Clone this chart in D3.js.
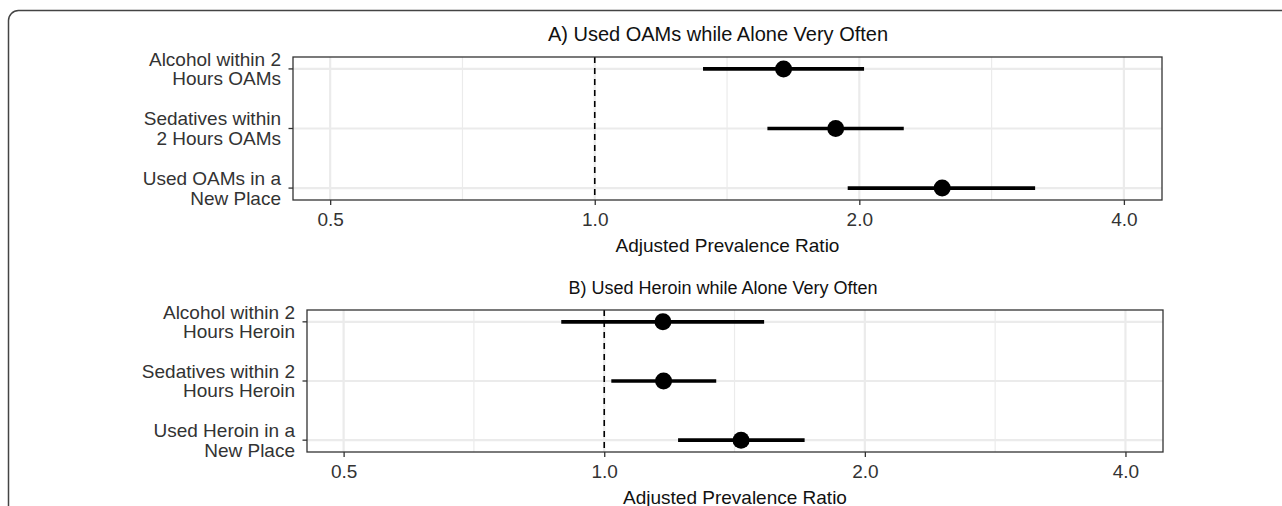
<!DOCTYPE html>
<html>
<head>
<meta charset="utf-8">
<script src="https://cdn.jsdelivr.net/npm/d3@7"></script>
<style>
  body { margin: 0; background: #fff; }
  text { font-family: "Liberation Sans", Arial, Helvetica, sans-serif; }
</style>
</head>
<body>
<svg id="chart" width="1282" height="506"></svg>
<script>
// shared x axis settings (log scale)
const xTicks = [0.5, 1, 2, 4]
const xMinor = [Math.SQRT1_2, Math.SQRT2, 2 * Math.SQRT2]
const xDomain = [0.4536, 4.42]

// panel A
const titleA = "A) Used OAMs while Alone Very Often"
const labelsA = [["Alcohol within 2", "Hours OAMs"], ["Sedatives within", "2 Hours OAMs"], ["Used OAMs in a", "New Place"]]
const estA = [1.64, 1.88, 2.485]
const lowA = [1.328, 1.572, 1.94]
const highA = [2.025, 2.247, 3.17]

// panel B
const titleB = "B) Used Heroin while Alone Very Often"
const labelsB = [["Alcohol within 2", "Hours Heroin"], ["Sedatives within 2", "Hours Heroin"], ["Used Heroin in a", "New Place"]]
const estB = [1.169, 1.171, 1.439]
const lowB = [0.892, 1.019, 1.217]
const highB = [1.53, 1.347, 1.704]

const xTitle = "Adjusted Prevalence Ratio"

const svg = d3.select("#chart")

// outer rounded frame, runs off the right and bottom edges
svg.append("rect")
  .attr("x", 8.5).attr("y", 10.5)
  .attr("width", 1320).attr("height", 540)
  .attr("rx", 10)
  .attr("fill", "none").attr("stroke", "#444").attr("stroke-width", 1.5)

const drawPanel = (opts) => {
  let { box, title, titleSize, titleX, labels, est, low, high } = opts
  let g = svg.append("g")

  let x = d3.scaleLog().domain(xDomain).range([box.left, box.right])
  let y = d3.scalePoint().domain(d3.range(labels.length)).range([box.top, box.bottom]).padding(0.2)

  // grid
  g.selectAll("line.minor").data(xMinor).join("line")
    .attr("x1", d => x(d)).attr("x2", d => x(d))
    .attr("y1", box.top).attr("y2", box.bottom)
    .attr("stroke", "#ebebeb").attr("stroke-width", 1.2)
  g.selectAll("line.majorx").data(xTicks).join("line")
    .attr("x1", d => x(d)).attr("x2", d => x(d))
    .attr("y1", box.top).attr("y2", box.bottom)
    .attr("stroke", "#ebebeb").attr("stroke-width", 2.2)
  g.selectAll("line.majory").data(d3.range(labels.length)).join("line")
    .attr("x1", box.left).attr("x2", box.right)
    .attr("y1", d => y(d)).attr("y2", d => y(d))
    .attr("stroke", "#ebebeb").attr("stroke-width", 2.2)

  // reference line at 1
  g.append("line")
    .attr("x1", x(1)).attr("x2", x(1))
    .attr("y1", box.top).attr("y2", box.bottom)
    .attr("stroke", "#000").attr("stroke-width", 1.6)
    .attr("stroke-dasharray", "6,5")

  // intervals and points
  let idx = d3.range(labels.length)
  g.selectAll("line.ci").data(idx).join("line")
    .attr("x1", i => x(low[i])).attr("x2", i => x(high[i]))
    .attr("y1", i => y(i)).attr("y2", i => y(i))
    .attr("stroke", "#000").attr("stroke-width", 3.6)
  g.selectAll("circle").data(idx).join("circle")
    .attr("cx", i => x(est[i])).attr("cy", i => y(i)).attr("r", 8.5)
    .attr("fill", "#000")

  // border
  g.append("rect")
    .attr("x", box.left).attr("y", box.top)
    .attr("width", box.right - box.left).attr("height", box.bottom - box.top)
    .attr("fill", "none").attr("stroke", "#333").attr("stroke-width", 1.3)

  // x axis
  let xAxis = d3.axisBottom(x).tickValues(xTicks)
    .tickFormat(d3.format(".1f")).tickSize(5).tickPadding(8).tickSizeOuter(0)
  let ax = g.append("g").attr("transform", `translate(0, ${box.bottom})`).call(xAxis)
  ax.select(".domain").remove()
  ax.selectAll(".tick line").attr("stroke", "#333").attr("stroke-width", 1.3)
  ax.selectAll(".tick text").attr("fill", "#333").style("font-size", "19px")
    .style("font-family", '"Liberation Sans", Arial, sans-serif')

  // y ticks and wrapped labels
  g.selectAll("line.ytick").data(idx).join("line")
    .attr("x1", box.left - 4.5).attr("x2", box.left)
    .attr("y1", i => y(i)).attr("y2", i => y(i))
    .attr("stroke", "#333").attr("stroke-width", 1.3)
  let lh = 1.03
  g.selectAll("text.ylab").data(idx).join("text")
    .attr("class", "ylab")
    .attr("x", box.left - 12).attr("y", i => y(i))
    .attr("text-anchor", "end").attr("fill", "#333").style("font-size", "19px")
    .each(function (i) {
      let lines = labels[i]
      d3.select(this).selectAll("tspan").data(lines).join("tspan")
        .attr("x", box.left - 12)
        .attr("dy", (d, k) => k === 0 ? `${-(lines.length - 1) / 2 * lh + 0.35}em` : `${lh}em`)
        .text(d => d)
    })

  // titles
  g.append("text")
    .attr("x", titleX).attr("y", box.top - 16)
    .attr("text-anchor", "middle").attr("fill", "#111")
    .style("font-size", titleSize + "px").text(title)
  g.append("text")
    .attr("x", (box.left + box.right) / 2).attr("y", box.bottom + 52)
    .attr("text-anchor", "middle").attr("fill", "#111")
    .style("font-size", "19px").text(xTitle)
}

drawPanel({ box: { left: 293, right: 1162, top: 57, bottom: 200 }, title: titleA, titleSize: 20, titleX: 718,
  labels: labelsA, est: estA, low: lowA, high: highA })
drawPanel({ box: { left: 307, right: 1163, top: 310, bottom: 452 }, title: titleB, titleSize: 18, titleX: 723,
  labels: labelsB, est: estB, low: lowB, high: highB })
</script>
</body>
</html>
